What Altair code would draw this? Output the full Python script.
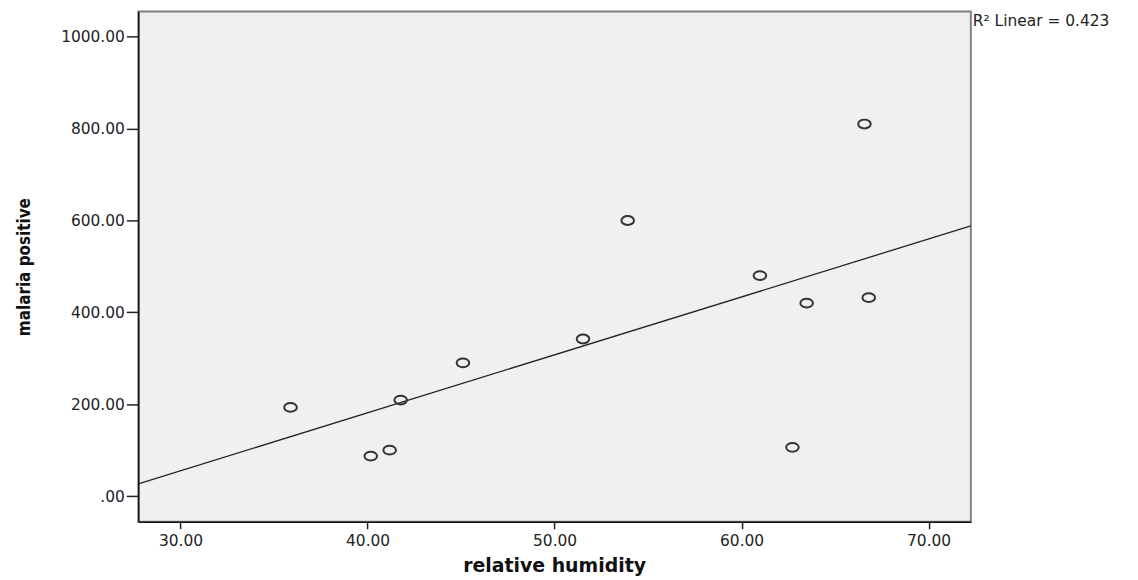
import altair as alt
import pandas as pd

# data
humidity = [35.88, 40.17, 41.18, 41.77, 45.10, 51.52, 53.91, 60.98, 63.48, 66.80, 62.72, 66.57]
malaria = [193, 87, 100, 209, 290, 342, 600, 480, 420, 432, 106, 810]
x_ticks = [30, 40, 50, 60, 70]
y_ticks = [0, 200, 400, 600, 800, 1000]
x_domain = [27.74, 72.26]
y_domain = [-56, 1055]
x_title = "relative humidity"
y_title = "malaria positive"
r2_label = "R\u00b2 Linear = 0.423"

df = pd.DataFrame({"humidity": humidity, "malaria": malaria})

ellipse = "M-1,0 A1,0.7 0 1,0 1,0 A1,0.7 0 1,0 -1,0 Z"

label_expr = "datum.value == 0 ? '.00' : format(datum.value, '.2f')"

x_enc = alt.X(
    "humidity:Q",
    scale=alt.Scale(domain=x_domain, nice=False, zero=False),
    axis=alt.Axis(
        title="",
        values=x_ticks,
        labelExpr=label_expr,
        grid=False,
        tickSize=7,
        tickWidth=1.5,
        tickColor="#222",
        domainColor="#111",
        domainWidth=1.5,
        labelFont="DejaVu Sans",
        labelFontSize=15.5,
        labelColor="#222",
        labelPadding=5,
    ),
)
y_enc = alt.Y(
    "malaria:Q",
    scale=alt.Scale(domain=y_domain, nice=False, zero=False),
    axis=alt.Axis(
        title=y_title,
        values=y_ticks,
        labelExpr=label_expr,
        grid=False,
        tickSize=12,
        tickWidth=1.5,
        tickColor="#222",
        domainColor="#111",
        domainWidth=1.5,
        labelFont="DejaVu Sans",
        labelFontSize=15.5,
        labelColor="#222",
        labelPadding=2,
        titleFont="Liberation Sans Narrow, DejaVu Sans Condensed, sans-serif",
        titleFontWeight="bold",
        titleFontSize=17,
        titleColor="#111",
        titleBaseline="middle",
        titleX=-114,
    ),
)

points = alt.Chart(df).mark_point(
    shape=ellipse, size=160, filled=False, stroke="#333", strokeWidth=2, opacity=1
).encode(x=x_enc, y=y_enc)

fit = (
    alt.Chart(df)
    .transform_regression("humidity", "malaria", extent=x_domain)
    .mark_line(color="#222", strokeWidth=1.3, clip=True)
    .encode(x="humidity:Q", y="malaria:Q")
)

r2 = (
    alt.Chart(pd.DataFrame({"t": [r2_label]}))
    .mark_text(align="left", baseline="top", font="DejaVu Sans", fontSize=15.5, color="#222")
    .encode(x=alt.value(839), y=alt.value(3), text="t:N")
)

xt = (
    alt.Chart(pd.DataFrame({"t": [x_title]}))
    .mark_text(align="center", baseline="middle", font="DejaVu Sans", fontSize=19,
               fontWeight="bold", color="#111")
    .encode(x=alt.value(418.5), y=alt.value(557), text="t:N")
)

chart = (
    alt.layer(fit, points, r2, xt)
    .properties(
        width=837,
        height=513,
        autosize=alt.AutoSizeParams(type="none"),
        padding={"left": 131, "top": 2, "right": 160, "bottom": 55},
        background="white",
    )
    .configure_view(fill="#f0f0f0", stroke="#808080", strokeWidth=2)
)

chart.save("out.html", embed_options={"renderer": "svg", "actions": False})
